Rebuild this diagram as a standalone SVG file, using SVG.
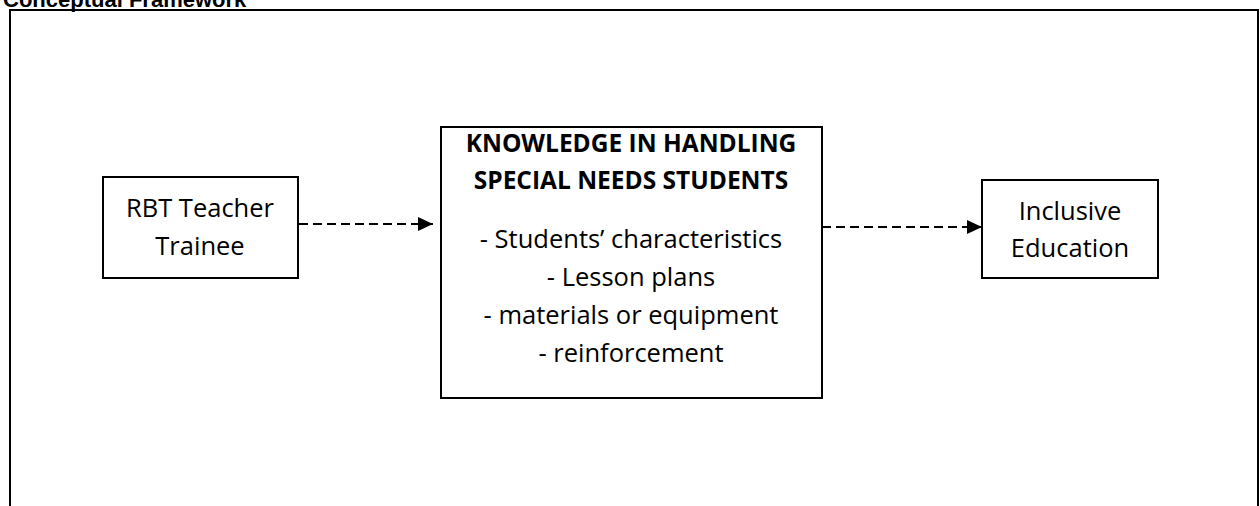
<svg xmlns="http://www.w3.org/2000/svg" width="1260" height="506" viewBox="0 0 1260 506">
<defs>
<style>
.box{fill:#fff;stroke:#000;stroke-width:2}
.t{font-family:"Open Sans","Liberation Sans",sans-serif;font-size:25.5px;fill:#000;text-anchor:middle}
.b{font-weight:bold;font-size:24.5px}
.title{font-family:"Liberation Sans",Arial,sans-serif;font-size:22px;font-weight:bold;fill:#000}
.conn{stroke:#000;stroke-width:2;stroke-dasharray:9 5;fill:none}
</style>
<marker id="ah" markerWidth="15" markerHeight="14" refX="15" refY="7" orient="auto" markerUnits="userSpaceOnUse">
<path d="M0,0 L15,7 L0,14 Z" fill="#000"/>
</marker>
</defs>
<rect width="1260" height="506" fill="#fff"/>
<text class="title" x="3" y="7">Conceptual Framework</text>
<path d="M10,520 V10 H1258 V520" fill="none" stroke="#000" stroke-width="2"/>
<g id="connectors">
<line class="conn" x1="299" y1="224" x2="433" y2="224" marker-end="url(#ah)"/>
<line class="conn" x1="822" y1="227" x2="982" y2="227" marker-end="url(#ah)"/>
</g>
<g id="node-trainee">
<rect class="box" x="103" y="177" width="195" height="101"/>
<text class="t" x="200" y="217">RBT Teacher</text>
<text class="t" x="200" y="255">Trainee</text>
</g>
<g id="node-knowledge">
<rect class="box" x="441" y="127" width="381" height="271"/>
<text class="t b" x="631" y="152">KNOWLEDGE IN HANDLING</text>
<text class="t b" x="631" y="189">SPECIAL NEEDS STUDENTS</text>
<text class="t" x="631" y="248">- Students’ characteristics</text>
<text class="t" x="631" y="286">- Lesson plans</text>
<text class="t" x="631" y="324">- materials or equipment</text>
<text class="t" x="631" y="362">- reinforcement</text>
</g>
<g id="node-inclusive">
<rect class="box" x="982" y="180" width="176" height="98"/>
<text class="t" x="1070" y="220">Inclusive</text>
<text class="t" x="1070" y="257">Education</text>
</g>
</svg>
